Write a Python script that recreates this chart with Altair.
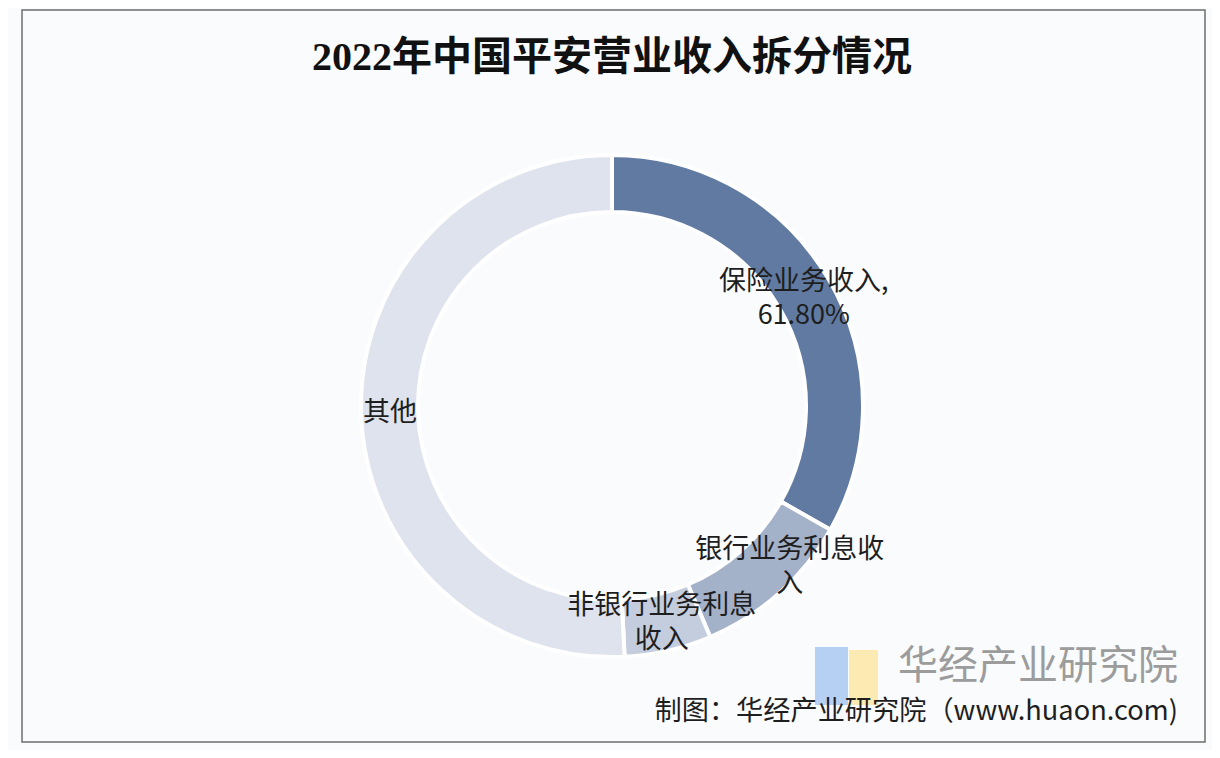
import altair as alt
import pandas as pd

categories = ["保险业务收入", "银行业务利息收入", "非银行业务利息收入", "其他"]
values = [33.2, 10.4, 5.6, 50.8]
labels = ["保险业务收入,\n61.80%", "银行业务利息收\n入", "非银行业务利息\n收入", "其他"]
colors = ["#607aa2", "#a3b1c9", "#c4cddd", "#dee3ee"]
title_text = "2022年中国平安营业收入拆分情况"
source_text = "制图：华经产业研究院（www.huaon.com)"
brand_text = "华经产业研究院"

df = pd.DataFrame({"category": categories, "value": values, "label": labels,
                   "idx": list(range(len(categories)))})

W, H = 1204, 742
CX, CY = 604, 398

donut = alt.Chart(df).mark_arc(outerRadius=251, innerRadius=194, stroke="white", strokeWidth=4).encode(
    theta=alt.Theta("value:Q", stack=True),
    order=alt.Order("idx:Q"),
    x=alt.value(CX),
    y=alt.value(CY),
    color=alt.Color("category:N", scale=alt.Scale(domain=categories, range=colors), legend=None),
)

font_cjk = "Noto Sans CJK SC"
lbl_kw = dict(radius=222, font=font_cjk, fontSize=27, color="#1e1e1e", lineBreak="\n",
              lineHeight=34, align="center", baseline="middle")

lbl_base = alt.Chart(df).transform_stack(
    stack="value", as_=["v0", "v1"], groupby=[], sort=[alt.SortField("idx", order="ascending")]
).transform_calculate(mid="(datum.v0 + datum.v1) / 2").encode(
    theta=alt.Theta("mid:Q", stack=None),
    x=alt.value(CX),
    y=alt.value(CY),
    text="label:N",
)

lbl_ins = lbl_base.mark_text(dy=-12, **lbl_kw).transform_filter(
    alt.datum.category == "保险业务收入")
lbl_bank = lbl_base.mark_text(dx=30, dy=-22, **lbl_kw).transform_filter(
    alt.datum.category == "银行业务利息收入")
lbl_nonbank = lbl_base.mark_text(dy=-16, **lbl_kw).transform_filter(
    alt.datum.category == "非银行业务利息收入")
lbl_one = lbl_base.mark_text(dy=1, **lbl_kw).transform_filter(
    alt.datum.category == "其他")

one = alt.Chart(pd.DataFrame({"a": [0]}))

frame = one.mark_rect(fill=None, stroke="#6e6e6e", strokeWidth=1.5).encode(
    x=alt.value(14), x2=alt.value(1197), y=alt.value(2), y2=alt.value(734))

title = one.mark_text(font="Liberation Serif, Noto Sans CJK SC", fontSize=40, fontWeight="bold",
                      color="#111111", align="center", baseline="middle").encode(
    x=alt.value(CX), y=alt.value(50), text=alt.value(title_text))

logo_blue = one.mark_rect(color="#9fc2f0", opacity=0.75).encode(
    x=alt.value(807), x2=alt.value(840), y=alt.value(639), y2=alt.value(697))
logo_yellow = one.mark_rect(color="#fbe7a0", opacity=0.8).encode(
    x=alt.value(841), x2=alt.value(870), y=alt.value(642), y2=alt.value(697))

brand = one.mark_text(font=font_cjk, fontSize=40, color="#8c8c8c", align="right",
                      baseline="middle", opacity=0.85).encode(
    x=alt.value(1170), y=alt.value(659), text=alt.value(brand_text))

source = one.mark_text(font=font_cjk, fontSize=27.2, color="#1e1e1e", align="right",
                       baseline="middle").encode(
    x=alt.value(1170), y=alt.value(704), text=alt.value(source_text))

chart = alt.layer(frame, title, donut, lbl_ins, lbl_bank, lbl_nonbank, lbl_one,
                  logo_blue, logo_yellow, brand, source).properties(
    width=W, height=H, autosize=alt.AutoSizeParams(type="none"), padding=0,
    background="#fafbfd"
).configure_view(stroke=None)

chart.save("out.html", embed_options={"renderer": "svg", "actions": False})
